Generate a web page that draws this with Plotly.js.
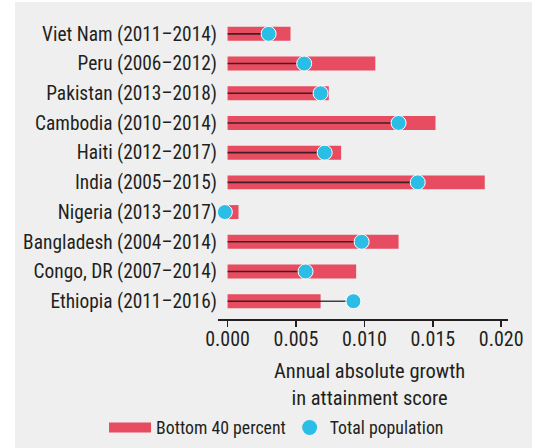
<!DOCTYPE html>
<html>
<head>
<meta charset="utf-8">
<script src="https://cdn.plot.ly/plotly-3.0.1.min.js"></script>
<style>
  html, body { margin: 0; padding: 0; background: #fff; }
  #chart { width: 542px; height: 448px; }
</style>
</head>
<body>
<div id="chart"></div>
<script>
const chartDiv = document.getElementById("chart")

// top to bottom, as in the figure
const countries = [
    "Viet Nam (2011–2014)",
    "Peru (2006–2012)",
    "Pakistan (2013–2018)",
    "Cambodia (2010–2014)",
    "Haiti (2012–2017)",
    "India (2005–2015)",
    "Nigeria (2013–2017)",
    "Bangladesh (2004–2014)",
    "Congo, DR (2007–2014)",
    "Ethiopia (2011–2016)"
]
const bottom40 = [0.0046, 0.0108, 0.0074, 0.0152, 0.0083, 0.0188, 0.0008, 0.0125, 0.0094, 0.0068]
const totalPop = [0.0030, 0.0056, 0.0068, 0.0125, 0.0071, 0.0139, -0.0002, 0.0098, 0.0057, 0.0092]
const xTicks = [0, 0.005, 0.01, 0.015, 0.02]

const red = "#e84c61"
const cyan = "#2abee6"
const ink = "#231f20"
const font = "'Liberation Sans Narrow', 'Roboto Condensed', 'DejaVu Sans Condensed', sans-serif"

// stems from zero to the total population value
let stemX = []
let stemY = []
countries.forEach((c, i) => {
    stemX.push(0, totalPop[i], null)
    stemY.push(c, c, null)
})

let traceBars = {
    type: "bar",
    orientation: "h",
    x: bottom40,
    y: countries,
    width: 0.47,
    marker: { color: red },
    showlegend: false,
    hoverinfo: "x+y"
}
let traceStems = {
    type: "scatter",
    mode: "lines",
    x: stemX,
    y: stemY,
    line: { color: "rgba(20,20,20,0.8)", width: 1.6 },
    showlegend: false,
    hoverinfo: "skip"
}
let traceDots = {
    type: "scatter",
    mode: "markers",
    x: totalPop,
    y: countries,
    name: "Total population",
    marker: { color: cyan, size: 15, line: { color: "#ffffff", width: 1 } },
    showlegend: false
}
// legend entries
let legendBars = {
    type: "scatter",
    mode: "lines",
    x: [null],
    y: [null],
    name: "Bottom 40 percent",
    line: { color: red, width: 11 },
    legend: "legend"
}
let legendDots = {
    type: "scatter",
    mode: "markers",
    x: [null],
    y: [null],
    name: "Total population",
    marker: { color: cyan, size: 15 },
    legend: "legend2"
}

let layout = {
    width: 542,
    height: 448,
    margin: { l: 218, r: 34, t: 19, b: 129, autoexpand: false },
    paper_bgcolor: "#ffffff",
    plot_bgcolor: "rgba(0,0,0,0)",
    font: { family: font, size: 19.4, color: ink },
    xaxis: {
        range: [-0.0007, 0.0205],
        tickvals: xTicks,
        tickformat: ".3f",
        ticks: "outside",
        ticklen: 6,
        tickwidth: 1.5,
        tickcolor: ink,
        showline: true,
        linecolor: ink,
        linewidth: 1.5,
        showgrid: false,
        zeroline: false,
        tickfont: { size: 20 },
        ticklabelstandoff: -5,
        fixedrange: true
    },
    yaxis: {
        type: "category",
        range: [9.6, -0.5],
        showgrid: false,
        zeroline: false,
        showline: false,
        ticks: "",
        ticklabelstandoff: 0,
        fixedrange: true
    },
    annotations: [{
        xref: "paper",
        yref: "paper",
        x: 0.524,
        y: -0.128,
        xanchor: "center",
        yanchor: "top",
        showarrow: false,
        text: "Annual absolute growth<br>in attainment score",
        font: { family: font, size: 20.5, color: ink }
    }],
    legend: {
        orientation: "h",
        x: -0.393,
        xanchor: "left",
        y: -0.363,
        yanchor: "middle",
        bgcolor: "rgba(0,0,0,0)",
        itemwidth: 42,
        font: { family: font, size: 17.8, color: ink }
    },
    legend2: {
        orientation: "h",
        x: 0.247,
        xanchor: "left",
        y: -0.363,
        yanchor: "middle",
        bgcolor: "rgba(0,0,0,0)",
        itemwidth: 30,
        font: { family: font, size: 17.8, color: ink }
    },
    shapes: [{
        type: "rect",
        xref: "paper",
        yref: "paper",
        x0: -0.7,
        x1: 1.083,
        y0: -0.43,
        y1: 1.0567,
        fillcolor: "#efefef",
        line: { width: 0 },
        layer: "below"
    }]
}
let config = {
    staticPlot: true
}

Plotly.newPlot(chartDiv, [traceBars, traceStems, traceDots, legendBars, legendDots], layout, config)
</script>
</body>
</html>
